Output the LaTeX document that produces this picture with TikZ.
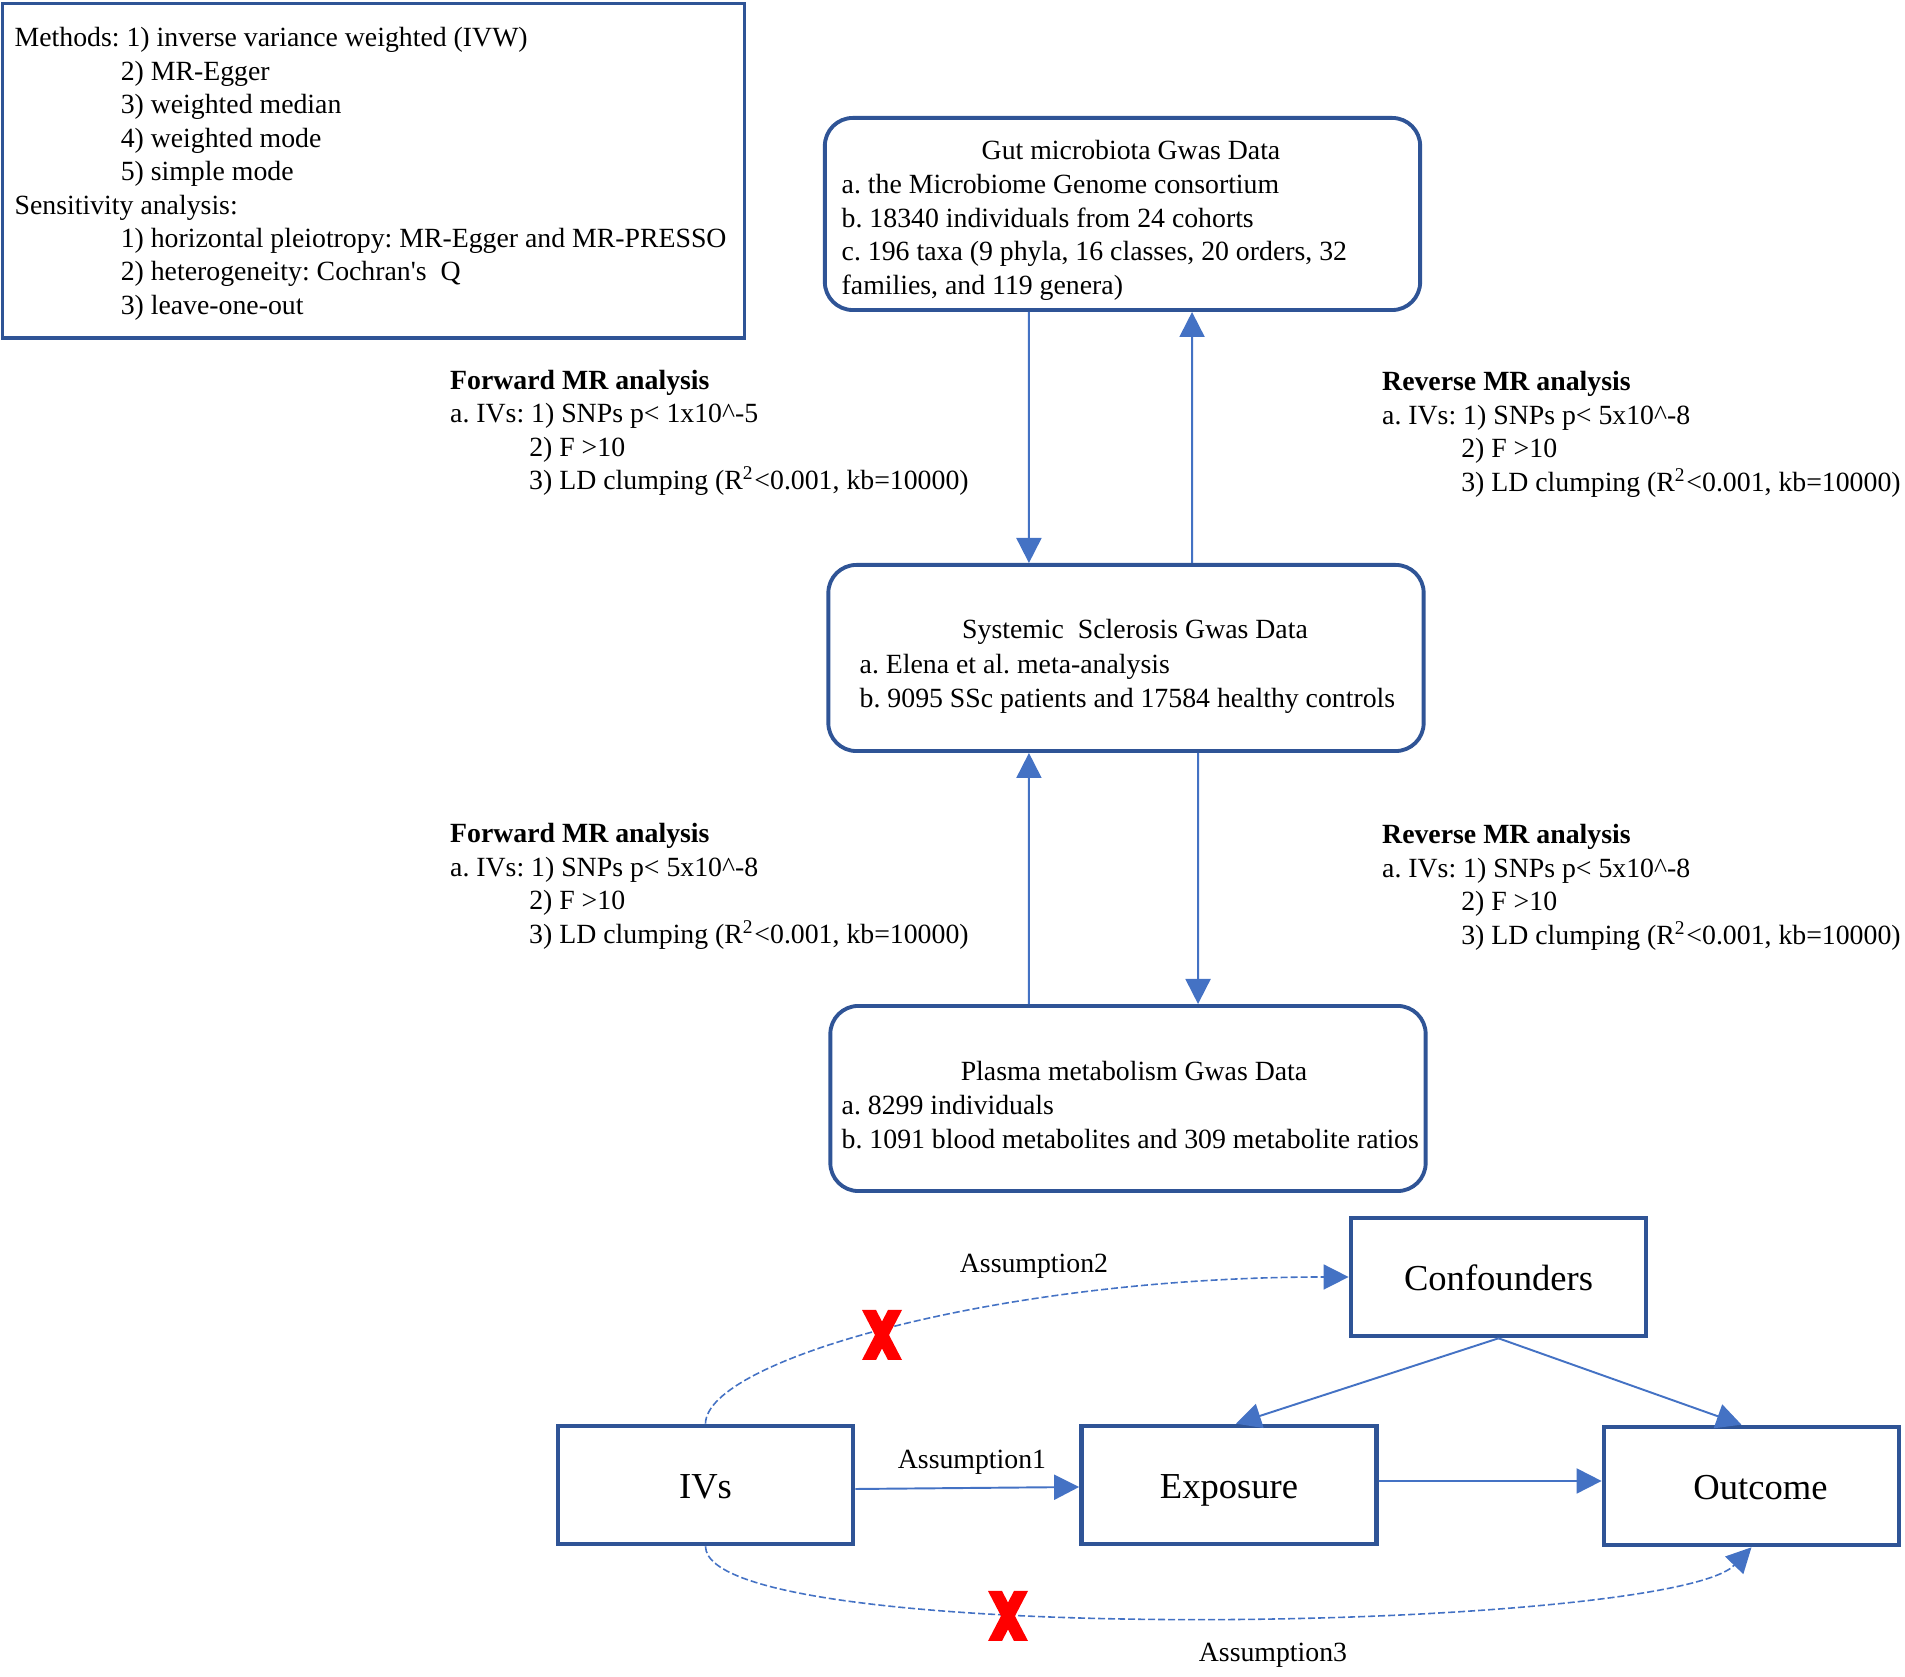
\documentclass[tikz,border=0pt]{standalone}
\usepackage{fontspec}
\setmainfont{Liberation Serif}
\usetikzlibrary{arrows.meta,positioning}
\definecolor{boxblue}{RGB}{47,84,150}
\definecolor{arrowblue}{RGB}{68,114,196}
\frenchspacing

\begin{document}
\begin{tikzpicture}[
    x=0.01cm, y=-0.01cm,
    txt/.style={inner sep=0pt, align=left, font=\fontsize{7.9}{9.5}\selectfont},
    databox/.style={draw=boxblue, line width=1.1pt, rounded corners=0.28cm, minimum width=5.95cm, inner sep=0pt},
    mrbox/.style={draw=boxblue, line width=1.3pt, minimum width=2.95cm, minimum height=1.18cm, inner sep=0pt, font=\fontsize{10.4}{12}\selectfont, text height=9.8pt, text depth=2pt},
    arrow/.style={-{Triangle[length=0.25cm, width=0.25cm]}, arrowblue, line width=0.55pt},
    dasharrow/.style={arrow, dash pattern=on 0.07cm off 0.03cm, line width=0.45pt},
    crossmark/.pic={\fill[red] (-20,-25) -- (-6,-25) -- (0,-13.5) -- (6,-25) -- (20,-25) -- (7,0) -- (20,25) -- (6,25) -- (0,13.5) -- (-6,25) -- (-20,25) -- (-7,0) -- cycle;}
]
    \useasboundingbox (0,0) rectangle (1905,1677);

    \node[draw=boxblue, line width=0.9pt, minimum width=7.41cm, minimum height=3.34cm] (methods) at (373.5,171) {};
    \node[txt, anchor=north west] (methodstxt) at (14,27) {Methods: 1) inverse variance weighted (IVW)\\
        \hspace*{1.06cm}2) MR-Egger\\
        \hspace*{1.06cm}3) weighted median\\
        \hspace*{1.06cm}4) weighted mode\\
        \hspace*{1.06cm}5) simple mode\\
        Sensitivity analysis:\\
        \hspace*{1.06cm}1) horizontal pleiotropy: MR-Egger and MR-PRESSO\\
        \hspace*{1.06cm}2) heterogeneity: Cochran\textquotesingle s\ \ Q\\
        \hspace*{1.06cm}3) leave-one-out};

    \node[databox, minimum height=1.92cm] (gut) at (1122.5,214) {};
    \node[txt, anchor=base] (guttitle) at (1131,160) {Gut microbiota Gwas Data};
    \node[txt, anchor=north west] (guttxt) at (841,174) {a. the Microbiome Genome consortium\\
        b. 18340 individuals from 24 cohorts\\
        c. 196 taxa (9 phyla, 16 classes, 20 orders, 32\\
        families, and 119 genera)};

    \node[databox, minimum height=1.86cm] (ssc) at (1126,658) {};
    \node[txt, anchor=base] (ssctitle) at (1135,639) {Systemic\ \ Sclerosis Gwas Data};
    \node[txt, anchor=north west] (ssctxt) at (859,654) {a. Elena et al. meta-analysis\\
        b. 9095 SSc patients and 17584 healthy controls};

    \node[databox, minimum height=1.85cm] (plasma) at (1128,1098.5) {};
    \node[txt, anchor=base] (plasmatitle) at (1134,1081) {Plasma metabolism Gwas Data};
    \node[txt, anchor=north west] (plasmatxt) at (841,1095) {a. 8299 individuals\\
        b. 1091 blood metabolites and 309 metabolite ratios};

    \node[txt, anchor=north west] (fwdtop) at (449.5,369.5) {\textbf{Forward MR analysis}\\
        a. IVs: 1) SNPs p\textless{} 1x10\textasciicircum-5\\
        \hspace*{0.79cm}2) F \textgreater10\\
        \hspace*{0.79cm}3) LD clumping (R\textsuperscript{2}\textless0.001, kb=10000)};
    \node[txt, anchor=north west] (revtop) at (1381.5,371) {\textbf{Reverse MR analysis}\\
        a. IVs: 1) SNPs p\textless{} 5x10\textasciicircum-8\\
        \hspace*{0.79cm}2) F \textgreater10\\
        \hspace*{0.79cm}3) LD clumping (R\textsuperscript{2}\textless0.001, kb=10000)};
    \node[txt, anchor=north west] (fwdbot) at (449.5,823) {\textbf{Forward MR analysis}\\
        a. IVs: 1) SNPs p\textless{} 5x10\textasciicircum-8\\
        \hspace*{0.79cm}2) F \textgreater10\\
        \hspace*{0.79cm}3) LD clumping (R\textsuperscript{2}\textless0.001, kb=10000)};
    \node[txt, anchor=north west] (revbot) at (1381.5,824) {\textbf{Reverse MR analysis}\\
        a. IVs: 1) SNPs p\textless{} 5x10\textasciicircum-8\\
        \hspace*{0.79cm}2) F \textgreater10\\
        \hspace*{0.79cm}3) LD clumping (R\textsuperscript{2}\textless0.001, kb=10000)};

    \draw[arrow] ([xshift=-0.935cm]gut.south) -- ([xshift=-0.97cm]ssc.north);
    \draw[arrow] ([xshift=0.66cm]ssc.north) -- ([xshift=0.695cm]gut.south);
    \draw[arrow] ([xshift=-0.99cm]plasma.north) -- ([xshift=-0.97cm]ssc.south);
    \draw[arrow] ([xshift=0.72cm]ssc.south) -- ([xshift=0.70cm]plasma.north);

    \node[mrbox] (conf) at (1498.5,1277) {Confounders};
    \node[mrbox] (ivs) at (705.5,1485) {IVs};
    \node[mrbox] (expo) at (1229,1485) {Exposure};
    \node[mrbox] (outc) at (1751.5,1486) {\hspace*{0.18cm}Outcome};

    \node[txt] (asm2) at (1034,1266) {Assumption2};
    \node[txt] (asm1) at (972,1462) {Assumption1};
    \node[txt] (asm3) at (1273,1655) {Assumption3};

    \draw[arrow] ([yshift=-0.04cm]ivs.east) -- ([yshift=-0.02cm]expo.west);
    \draw[arrow] ([yshift=0.04cm]expo.east) -- ([yshift=0.05cm]outc.west);
    \draw[arrow] (conf.south) -- ([xshift=0.07cm]expo.north);
    \draw[arrow] (conf.south) -- ([xshift=-0.1cm]outc.north);
    \draw[dasharrow] (ivs.north) .. controls (706,1360) and (1000,1277) .. (conf.west);
    \draw[dasharrow] (ivs.south) .. controls (706,1650) and (1670,1632) .. (outc.south);

    \pic at (882,1335) {crossmark};
    \pic at (1008,1616) {crossmark};
\end{tikzpicture}
\end{document}
